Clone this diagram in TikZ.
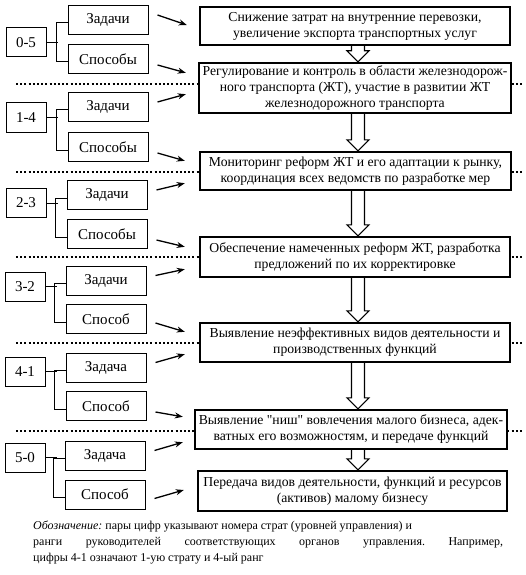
\documentclass[tikz,border=0pt]{standalone}
\usepackage{fontspec}
\setmainfont{Liberation Serif}[Ligatures=TeXOff]
\usetikzlibrary{calc,arrows.meta}
\begin{document}
\frenchspacing
\begin{tikzpicture}[x=1pt,y=-1pt,
  numbox/.style={draw,line width=1pt,minimum width=40pt,minimum height=29pt,inner sep=0pt,font=\fontsize{15}{18}\selectfont},
  subbox/.style={draw,line width=1pt,minimum width=80pt,minimum height=29pt,inner sep=0pt,font=\fontsize{15}{18}\selectfont},
  mainbox/.style={draw,line width=2.4pt,fill=white,inner sep=0pt,align=center,font=\fontsize{13.7}{16}\selectfont},
  dotline/.style={line width=2pt,dash pattern=on 2pt off 2.2pt},
  arr/.style={line width=1.3pt,-{Stealth[length=8pt,width=6pt]}},
  brk/.style={line width=1pt},
  hollow/.style={draw,line width=1.1pt,fill=white},
  capt/.style={anchor=base west,inner sep=0pt,font=\fontsize{12}{16}\selectfont}]
\useasboundingbox (0,0) rectangle (525,575);
% dotted separators
\foreach \yy in {84,172,257,343,431}
  \draw[dotline] (16,\yy) -- (522,\yy);
% main boxes
\node[mainbox,minimum width=310pt,minimum height=38pt] (B1) at (355,26)
  {Снижение затрат на внутренние перевозки,\\увеличение экспорта транспортных услуг};
\node[mainbox,minimum width=312pt,minimum height=50pt] (B2) at (355,88)
  {Регулирование и контроль в области железнодорож-\\ного транспорта (ЖТ), участие в развитии ЖТ\\железнодорожного транспорта};
\node[mainbox,minimum width=311pt,minimum height=38pt] (B3) at (355.5,171)
  {Мониторинг реформ ЖТ и его адаптации к рынку,\\координация всех ведомств по разработке мер};
\node[mainbox,minimum width=310pt,minimum height=40pt] (B4) at (355,257)
  {Обеспечение намеченных реформ ЖТ, разработка\\предложений по их корректировке};
\node[mainbox,minimum width=310pt,minimum height=39pt] (B5) at (355,342.5)
  {Выявление неэффективных видов деятельности и\\производственных функций};
\node[mainbox,minimum width=312pt,minimum height=39pt] (B6) at (351,429.5)
  {Выявление "ниш" вовлечения малого бизнеса, адек-\\ватных его возможностям, и передаче функций};
\node[mainbox,minimum width=309pt,minimum height=40pt] (B7) at (352.5,491)
  {Передача видов деятельности, функций и ресурсов\\(активов) малому бизнесу};
% hollow arrows
\foreach \a/\b in {B1/B2,B2/B3,B3/B4,B4/B5,B5/B6,B6/B7}{
  \path[hollow] let \p1=(\a.south), \p2=(\b.north) in
    (358pt-6.5pt,\y1) -- (358pt-6.5pt,\y2+11pt) -- (358pt-11pt,\y2+11pt) -- (358pt,\y2)
    -- (358pt+11pt,\y2+11pt) -- (358pt+6.5pt,\y2+11pt) -- (358pt+6.5pt,\y1);
}
% left groups
\node[numbox] (N1) at (26,42.5) {0-5};
\node[subbox] (Z1) at (108,20) {Задачи};
\node[subbox] (S1) at (108,59) {Способы};
\node[numbox] (N2) at (26,117.5) {1-4};
\node[subbox] (Z2) at (108,107) {Задачи};
\node[subbox] (S2) at (108,147) {Способы};
\node[numbox] (N3) at (26,203) {2-3};
\node[subbox] (Z3) at (107,195) {Задачи};
\node[subbox] (S3) at (107,234) {Способы};
\node[numbox] (N4) at (25,286.5) {3-2};
\node[subbox] (Z4) at (106,280.5) {Задачи};
\node[subbox] (S4) at (106,319) {Способ};
\node[numbox] (N5) at (25,371.5) {4-1};
\node[subbox] (Z5) at (106,367.5) {Задача};
\node[subbox] (S5) at (106,406) {Способ};
\node[numbox] (N6) at (25,457.5) {5-0};
\node[subbox] (Z6) at (105,455.5) {Задача};
\node[subbox] (S6) at (105,494.5) {Способ};
\foreach \i in {1,...,6}{
  \draw[brk] (N\i.east) -- ++(11,0);
  \draw[brk] ([yshift=-3pt]Z\i.west) -- ++(-11,0) |- ([yshift=-3pt]S\i.west);
}
% task / method arrows
\draw[arr] ([xshift=9pt,yshift=5pt]Z1.east) -- ($(B1.west)+(-12,-1)$);
\draw[arr] ([xshift=9pt,yshift=-6pt]S1.east) -- ($(B2.north west)+(-12,11)$);
\draw[arr] ([xshift=9pt,yshift=5pt]Z2.east) -- ($(B2.south west)+(-12,-20)$);
\draw[arr] ([xshift=9pt,yshift=-6pt]S2.east) -- ($(B3.north west)+(-14,10)$);
\draw[arr] ([xshift=9pt,yshift=5pt]Z3.east) -- ($(B3.south west)+(-14,-8)$);
\draw[arr] ([xshift=9pt,yshift=-6pt]S3.east) -- ($(B4.north west)+(-14,11)$);
\draw[arr] ([xshift=9pt,yshift=5pt]Z4.east) -- ($(B4.south west)+(-14,-9)$);
\draw[arr] ([xshift=9pt,yshift=-4pt]S4.east) -- ($(B5.north west)+(-14,10)$);
\draw[arr] ([xshift=9pt,yshift=5pt]Z5.east) -- ($(B5.south west)+(-14,-9)$);
\draw[arr] ([xshift=9pt,yshift=-6pt]S5.east) -- ($(B6.north west)+(-11,8)$);
\draw[arr] ([xshift=9pt,yshift=5pt]Z6.east) -- ($(B6.south west)+(-11,-8)$);
\draw[arr] ([xshift=9pt,yshift=-4pt]S6.east) -- ($(B7.west)+(-13,-1)$);
% caption
\node[capt] (C1) at (33,529) {\textit{Обозначение:} пары цифр указывают номера страт (уровней управления) и};
\node[capt] (C2) at (33,545) {\makebox[470pt][s]{ранги руководителей соответствующих органов управления. Например,}};
\node[capt] (C3) at (33,561) {цифры 4-1 означают 1-ую страту и 4-ый ранг};
\end{tikzpicture}
\end{document}
